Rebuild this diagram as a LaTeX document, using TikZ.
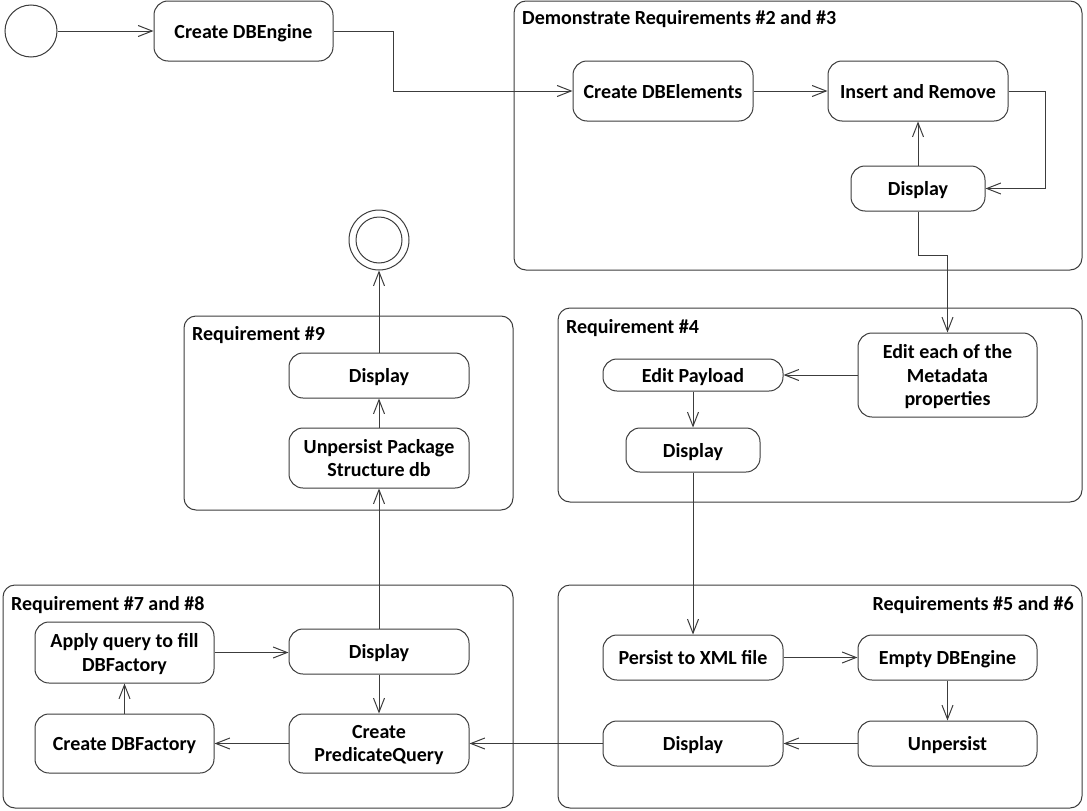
\documentclass[tikz,border=0pt]{standalone}
\usepackage{fontspec}
\setmainfont{Carlito}
\usetikzlibrary{arrows.meta}
\definecolor{linec}{HTML}{3C3C3C}
\begin{document}
\begin{tikzpicture}[x=1pt,y=-1pt,
  act/.style={draw=linec, rounded corners=14pt, line width=1pt, align=center,
    font=\bfseries\fontsize{20}{23.5}\selectfont, inner sep=0pt, text depth=0pt},
  grp/.style={draw=linec, rounded corners=12pt, line width=1pt},
  flow/.style={draw=linec, line width=1pt, -{Straight Barb[length=14pt,width=11pt,line width=1pt]}},
  ttl/.style={font=\bfseries\fontsize{20}{23.5}\selectfont, inner sep=0pt}]
\useasboundingbox (0,0) rectangle (1087,811);
% groups
\draw[grp] (514,1) rectangle (1082,270);
\node[ttl, anchor=west] (t1) at (522,19) {Demonstrate Requirements \#2 and \#3};
\draw[grp] (184,316) rectangle (513,510);
\node[ttl, anchor=west] (t9) at (192,335) {Requirement \#9};
\draw[grp] (558,308) rectangle (1082,502);
\node[ttl, anchor=west] (t4) at (566,328) {Requirement \#4};
\draw[grp] (558,585) rectangle (1082,808);
\node[ttl, anchor=east] (t56) at (1074,605) {Requirements \#5 and \#6};
\draw[grp] (3,585) rectangle (513,808);
\node[ttl, anchor=west] (t78) at (11,605) {Requirement \#7 and \#8};
% start / end
\node[draw=linec, line width=1pt, circle, minimum size=52pt, inner sep=0pt] (start) at (31,31) {};
\node[draw=linec, line width=1pt, circle, minimum size=60pt, inner sep=0pt] (end) at (379,240) {};
\node[draw=linec, line width=1pt, circle, minimum size=46pt, inner sep=0pt] (endin) at (379,240) {};
% activities
\node[act, minimum width=179pt, minimum height=60pt] (cdbe) at (243.5,31) {Create DBEngine};
\node[act, minimum width=180pt, minimum height=60pt] (cdbel) at (663,91) {Create DBElements};
\node[act, minimum width=180pt, minimum height=60pt] (ins) at (918,91) {Insert and Remove};
\node[act, minimum width=134pt, minimum height=45pt] (disp1) at (918,188.5) {Display};
\node[act, minimum width=180pt, minimum height=45pt] (disp9) at (379,375.5) {Display};
\node[act, minimum width=180pt, minimum height=60pt] (unpkg) at (379,458) {Unpersist Package\\Structure db};
\node[act, minimum width=179pt, minimum height=84pt] (editm) at (947.5,375) {Edit each of the\\Metadata\\properties};
\node[act, minimum width=180pt, minimum height=32pt] (editp) at (693,375) {Edit Payload};
\node[act, minimum width=134pt, minimum height=44pt] (disp4) at (693,450) {Display};
\node[act, minimum width=180pt, minimum height=45pt] (pers) at (693,657.5) {Persist to XML file};
\node[act, minimum width=179pt, minimum height=45pt] (empty) at (947.5,657.5) {Empty DBEngine};
\node[act, minimum width=180pt, minimum height=45pt] (disp5) at (693,743.5) {Display};
\node[act, minimum width=179pt, minimum height=45pt] (unp) at (947.5,743.5) {Unpersist};
\node[act, minimum width=179pt, minimum height=61pt] (apply) at (124.5,652.5) {Apply query to fill\\DBFactory};
\node[act, minimum width=180pt, minimum height=45pt] (disp7) at (379,651.5) {Display};
\node[act, minimum width=179pt, minimum height=59pt] (cdbf) at (124.5,743.5) {Create DBFactory};
\node[act, minimum width=180pt, minimum height=59pt] (cpq) at (379,743.5) {Create\\PredicateQuery};
% connectors
\draw[flow] (start) -- (cdbe);
\draw[flow] (cdbe.east) -- ++(60,0) |- (cdbel.west);
\draw[flow] (cdbel) -- (ins);
\draw[flow] (ins.east) -- ++(37,0) |- (disp1.east);
\draw[flow] (disp1) -- (ins);
\draw[flow] (disp1.south) -- ++(0,44) -| (editm.north);
\draw[flow] (editm.west) -- (editp.east);
\draw[flow] (editp) -- (disp4);
\draw[flow] (disp4) -- (pers);
\draw[flow] (pers) -- (empty);
\draw[flow] (empty) -- (unp);
\draw[flow] (unp) -- (disp5);
\draw[flow] (disp5) -- (cpq);
\draw[flow] (cpq) -- (cdbf);
\draw[flow] (cdbf) -- (apply);
\draw[flow] (apply.east) -- (apply.east -| disp7.west);
\draw[flow] (disp7) -- (cpq);
\draw[flow] (disp7) -- (unpkg);
\draw[flow] (unpkg) -- (disp9);
\draw[flow] (disp9) -- (end);
\end{tikzpicture}
\end{document}
